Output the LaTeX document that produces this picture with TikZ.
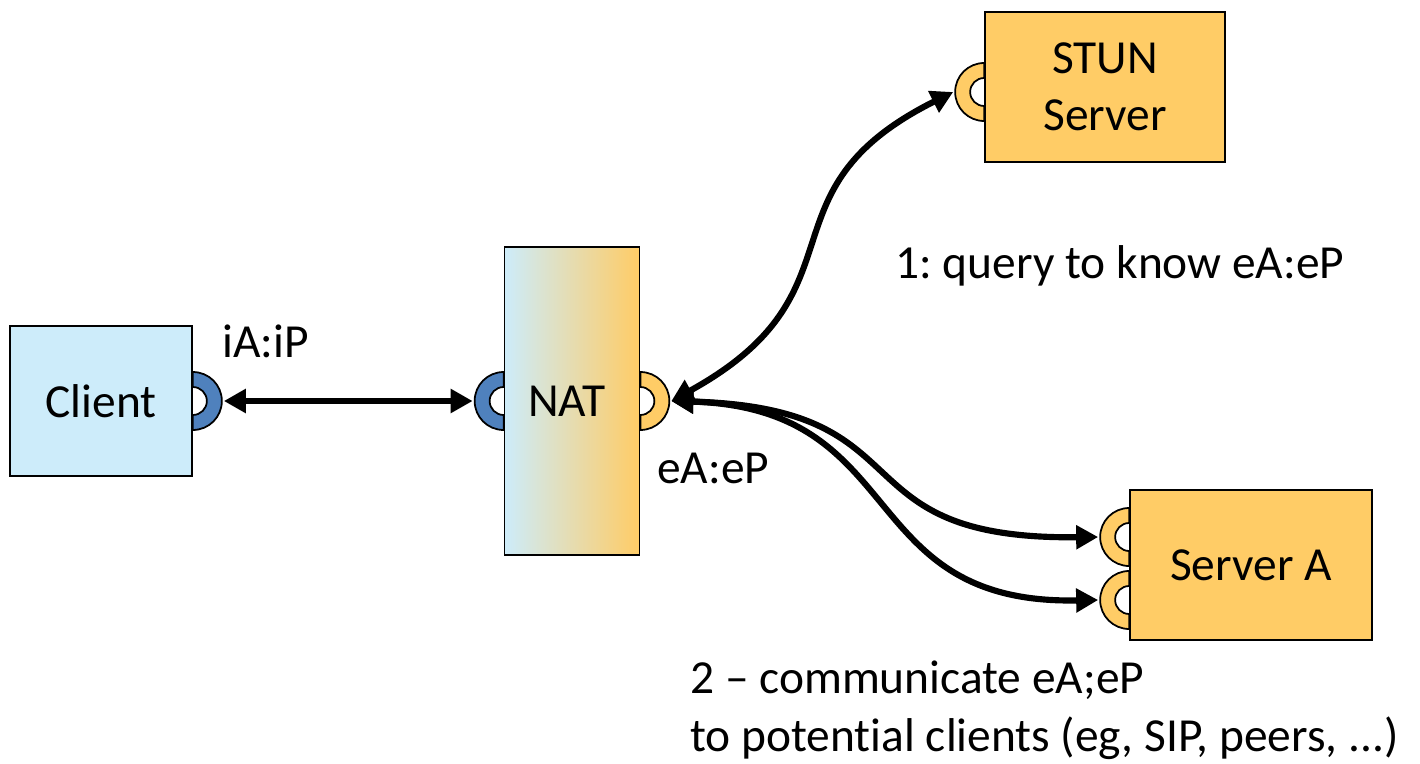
\documentclass[tikz,border=0pt]{standalone}
\usepackage{fontspec}
\setmainfont{Carlito}[Ligatures={TeX,NoCommon}]
\usetikzlibrary{arrows.meta,calc}
\definecolor{boxblue}{RGB}{205,236,250}
\definecolor{boxorange}{RGB}{255,204,102}
\definecolor{portblue}{RGB}{79,129,189}
\frenchspacing

\begin{document}
\begin{tikzpicture}[x=0.02cm, y=-0.02cm,
    box/.style={draw, line width=1pt, fill=#1, minimum height=3cm, align=center, font=\fontsize{27}{32.5}\selectfont},
    lbl/.style={inner sep=0pt, align=left, font=\fontsize{27}{32.5}\selectfont},
    link/.style={{Triangle[length=0.44cm, width=0.46cm]}-{Triangle[length=0.44cm, width=0.46cm]}, line width=3.5pt},
    pics/port/.style={code={
        \filldraw[fill=#1, line width=1pt] (0,-0.58cm) arc[start angle=-90, end angle=90, radius=0.58cm]
            -- (0,0.28cm) arc[start angle=90, end angle=-90, radius=0.28cm] -- cycle;
        \coordinate (-tip) at (0.62cm,0);
    }}
]
    \useasboundingbox (0,0) rectangle (1420,764);

    \node[box=boxblue, minimum width=3.64cm] (client) at (101,401) {Client};
    \node[draw, line width=1pt, left color=boxblue, right color=boxorange, minimum width=2.7cm, minimum height=6.16cm,
        font=\fontsize{27}{32.5}\selectfont] (nat) at (572,401) {\hspace*{-0.2cm}NAT};
    \node[box=boxorange, minimum width=4.8cm] (stun) at (1105,87) {STUN\\Server};
    \node[box=boxorange, minimum width=4.84cm] (srvA) at (1251,565) {Server A};

    % Ports
    \pic (clientP) at (client.east) {port=portblue};
    \pic[rotate=180] (natL) at (nat.west) {port=portblue};
    \pic (natR) at (nat.east) {port=boxorange};
    \pic[rotate=180] (stunP) at ([yshift=-0.1cm]stun.west) {port=boxorange};
    \pic[rotate=180] (srvA1) at ([yshift=0.56cm]srvA.west) {port=boxorange};
    \pic[rotate=180] (srvA2) at ([yshift=-0.7cm]srvA.west) {port=boxorange};

    % Connections
    \draw[link] (clientP-tip) -- (natL-tip);
    \draw[link] (natR-tip) .. controls +(200,-110) and +(-200,100) .. (stunP-tip);
    \draw[link] (natR-tip) .. controls +(260,7) and +(-265,3) .. (srvA1-tip);
    \draw[link] (natR-tip) .. controls +(240,7) and +(-245,5) .. (srvA2-tip);

    % Labels
    \node[lbl, anchor=base west] (iaip) at (222,357) {iA:iP};
    \node[lbl, anchor=base west] (eaep) at (657,483) {eA:eP};
    \node[lbl, anchor=base west] (query) at (895,278) {1: query to know eA:eP};
    \node[lbl, anchor=north west] (comm) at (690,661) {2 \textendash{} communicate eA;eP\\to potential clients (eg, SIP, peers, ...)};
\end{tikzpicture}
\end{document}
